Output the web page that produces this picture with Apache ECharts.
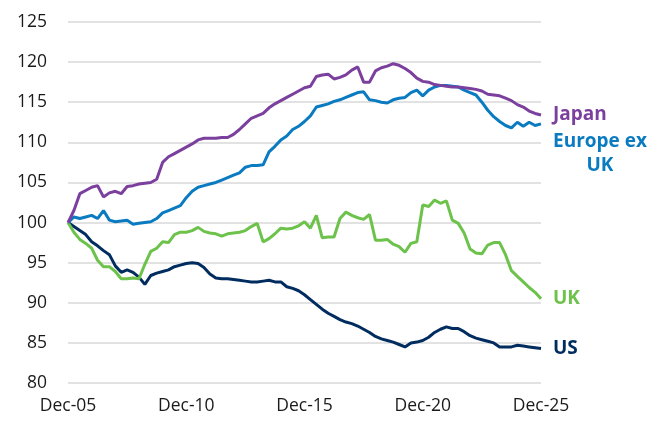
<!DOCTYPE html>
<html>
<head>
<meta charset="utf-8">
<script src="https://cdn.jsdelivr.net/npm/echarts@6/dist/echarts.min.js"></script>
<style>
html,body{margin:0;padding:0;background:#fff;}
#chart{width:663px;height:441px;}
</style>
</head>
<body>
<div id="chart"></div>
<script>
// Quarterly observations, Dec-05 .. Dec-25
var months = ['Mar','Jun','Sep','Dec'];
var categories = ['Dec-05'];
for (var y = 6; y <= 25; y++) {
  for (var m = 0; m < 4; m++) {
    categories.push(months[m] + '-' + (y < 10 ? '0' + y : '' + y));
  }
}
var tickLabels = ['Dec-05','Dec-10','Dec-15','Dec-20','Dec-25'];

var japan = [100,
101.5,103.6,104.0,104.4, 104.6,103.2,103.7,103.9, 103.6,104.5,104.6,104.8, 104.9,105.0,105.4,107.5,
108.2,108.6,109.0,109.4, 109.8,110.3,110.5,110.5, 110.5,110.6,110.6,111.0, 111.6,112.3,113.0,113.3,
113.6,114.3,114.8,115.2, 115.6,116.0,116.4,116.8, 117.0,118.2,118.4,118.5, 117.9,118.1,118.4,119.0,
119.4,117.5,117.5,118.9, 119.3,119.5,119.8,119.6, 119.2,118.7,118.0,117.6, 117.5,117.2,117.1,117.0,
116.9,116.9,116.8,116.7, 116.6,116.4,116.0,115.9, 115.8,115.5,115.2,114.7, 114.4,113.9,113.6,113.4];

var europeExUK = [100,
100.7,100.5,100.7,100.9, 100.5,101.5,100.3,100.1, 100.2,100.3,99.8,99.9, 100.0,100.1,100.5,101.2,
101.5,101.8,102.1,103.1, 103.9,104.4,104.6,104.8, 105.0,105.3,105.6,105.9, 106.2,106.9,107.1,107.1,
107.2,108.8,109.5,110.3, 110.8,111.6,112.0,112.6, 113.3,114.4,114.6,114.8, 115.1,115.3,115.6,115.9,
116.2,116.3,115.3,115.2, 115.0,114.9,115.3,115.5, 115.6,116.2,116.5,115.8, 116.5,116.9,117.1,117.1,
117.0,116.9,116.5,116.2, 115.9,115.0,114.0,113.2, 112.6,112.1,111.8,112.5, 112.0,112.5,112.1,112.3];

var uk = [100,
98.8,97.9,97.4,96.8, 95.3,94.5,94.5,93.9, 93.0,93.0,93.1,93.0, 94.8,96.4,96.8,97.6,
97.5,98.5,98.8,98.8, 99.0,99.4,98.9,98.7, 98.6,98.3,98.6,98.7, 98.8,99.0,99.5,99.9,
97.6,98.0,98.6,99.3, 99.2,99.3,99.6,100.1, 99.3,100.9,98.1,98.2, 98.2,100.5,101.3,100.9,
100.6,100.4,101.0,97.8, 97.8,97.9,97.3,97.0, 96.3,97.4,97.6,102.2, 102.0,102.8,102.4,102.7,
100.3,99.9,98.7,96.7, 96.2,96.1,97.2,97.5, 97.5,96.0,94.0,93.3, 92.6,91.9,91.3,90.5];

var us = [100,
99.5,99.0,98.5,97.6, 97.1,96.5,96.0,94.6, 93.8,94.1,93.8,93.2, 92.3,93.4,93.7,93.9,
94.1,94.5,94.7,94.9, 95.0,94.9,94.4,93.6, 93.1,93.0,93.0,92.9, 92.8,92.7,92.6,92.6,
92.7,92.8,92.6,92.6, 92.0,91.8,91.5,91.0, 90.4,89.8,89.2,88.7, 88.3,87.9,87.6,87.4,
87.1,86.7,86.3,85.8, 85.5,85.3,85.1,84.8, 84.5,85.0,85.1,85.3, 85.7,86.3,86.7,87.0,
86.8,86.8,86.4,85.9, 85.6,85.4,85.2,85.0, 84.5,84.5,84.5,84.7, 84.6,84.5,84.4,84.3];

var seriesNames = ['Japan','Europe ex UK','UK','US'];
var seriesColors = ['#7b3f9e','#0a7bc1','#6cc24a','#002c5f'];
var seriesData = [japan, europeExUK, uk, us];

var chart = echarts.init(document.getElementById('chart'), null, {renderer:'canvas'});

var series = seriesData.map(function (d, i) {
  var endLabel = {
    show: true,
    color: seriesColors[i],
    fontFamily: 'Open Sans',
    fontWeight: 'bold',
    fontSize: 19,
    distance: 12,
    formatter: seriesNames[i]
  };
  if (i === 1) {
    endLabel.formatter = 'Europe ex\nUK';
    endLabel.align = 'center';
    endLabel.lineHeight = 24;
    endLabel.offset = [47, 30];
  }
  return {
    name: seriesNames[i],
    type: 'line',
    data: d,
    symbol: 'none',
    z: 10 - i,
    lineStyle: {color: seriesColors[i], width: 3},
    itemStyle: {color: seriesColors[i]},
    endLabel: endLabel
  };
});

chart.setOption({
  animation: false,
  backgroundColor: '#fff',
  grid: {left: 68, right: 122, top: 22, bottom: 58, containLabel: false},
  xAxis: {
    type: 'category',
    data: categories,
    boundaryGap: false,
    axisLine: {show: false},
    axisTick: {show: false},
    axisLabel: {
      interval: function (idx, val) { return tickLabels.indexOf(val) >= 0; },
      color: '#1a1a1a',
      fontFamily: 'Open Sans',
      fontSize: 17.5,
      margin: 14
    },
    splitLine: {show: false}
  },
  yAxis: {
    type: 'value',
    min: 80,
    max: 125,
    interval: 5,
    axisLine: {show: false},
    axisTick: {show: false},
    axisLabel: {
      color: '#1a1a1a',
      fontFamily: 'Open Sans',
      fontSize: 17.5,
      margin: 21
    },
    splitLine: {lineStyle: {color: '#d9d9d9', width: 1.5}}
  },
  series: series
});
</script>
</body>
</html>
